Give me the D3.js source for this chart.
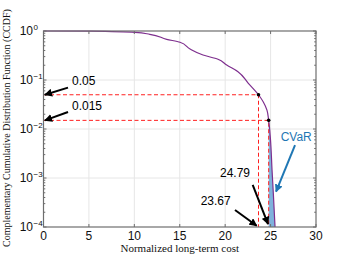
<!DOCTYPE html>
<html>
<head>
<meta charset="utf-8">
<script src="https://cdn.jsdelivr.net/npm/d3@7"></script>
<style>
  body { margin: 0; background: #fff; }
  text { font-family: "Liberation Sans", Arial, sans-serif; }
</style>
</head>
<body>
<svg width="352" height="256"></svg>
<script>
// CCDF of normalized long-term cost
var costs = [0, 5.1, 10.07, 11.7, 13.56, 15.03, 16.13, 17.56, 19.21, 20.17, 21.41, 22.55, 23.67, 24.2, 24.6, 24.79, 24.99, 25.16, 25.3, 25.49];
var ccdf  = [1, 0.995, 0.941, 0.857, 0.677, 0.588, 0.43, 0.324, 0.265, 0.202, 0.148, 0.0857, 0.05, 0.0356, 0.0243, 0.015, 0.006, 0.00146, 0.000494, 0.0001];

var xTicks = [0, 5, 10, 15, 20, 25, 30];
var yTicks = [1e-4, 1e-3, 1e-2, 1e-1, 1];
var yExp   = ["\u22124", "\u22123", "\u22122", "\u22121", "0"];

// VaR levels and costs
var levels = [0.05, 0.015];
var vars   = [23.67, 24.79];

// annotations: text, text pos, arrow tail, arrow head (data units)
var notes = [
  {t: "0.05",  tx: 3.14, ty: 0.095,   ax: 2.7,   ay: 0.07,    hx: 0.15,  hy: 0.05,    c: "#000"},
  {t: "0.015", tx: 3.14, ty: 0.0295,  ax: 2.7,   ay: 0.0222,  hx: 0.15,  hy: 0.015,   c: "#000"},
  {t: "24.79", tx: 19.43, ty: 0.00126, ax: 23.03, ay: 0.00072, hx: 24.72, hy: 1.15e-4, c: "#000"},
  {t: "23.67", tx: 17.3, ty: 0.000344, ax: 21.08, ay: 0.000222, hx: 23.47, hy: 1.06e-4, c: "#000"},
  {t: "CVaR",  tx: 26.11, ty: 0.00697, ax: 27.69, ay: 0.00471, hx: 25.6,  hy: 0.000525, c: "#1f77b4"}
];

var svg = d3.select("svg");
var x = d3.scaleLinear().domain([0, 30]).range([43.5, 316]);
var y = d3.scaleLog().domain([1e-4, 1]).range([227, 31]);

var pts = costs.map(function (c, i) { return [c, ccdf[i]]; });

// grid
svg.append("g").selectAll("line").data(xTicks.slice(1, -1)).enter().append("line")
  .attr("x1", d => x(d)).attr("x2", d => x(d)).attr("y1", y(1)).attr("y2", y(1e-4))
  .attr("stroke", "#e6e6e6").attr("stroke-width", 1);
svg.append("g").selectAll("line").data(yTicks.slice(1, -1)).enter().append("line")
  .attr("y1", d => y(d)).attr("y2", d => y(d)).attr("x1", x(0)).attr("x2", x(30))
  .attr("stroke", "#e6e6e6").attr("stroke-width", 1);

// CVaR shaded tail
var tail = pts.filter(d => d[0] >= vars[1]);
svg.append("path").datum(tail)
  .attr("d", d3.area().y(d => y(d[1])).x0(x(vars[1])).x1(d => x(d[0])))
  .attr("fill", "#7fb2dc");

// red dashed guides
levels.forEach(function (l, i) {
  svg.append("path")
    .attr("d", "M" + x(0) + "," + y(l) + "H" + x(vars[i]) + "V" + y(1e-4))
    .attr("fill", "none").attr("stroke", "#ff2020").attr("stroke-width", 1)
    .attr("stroke-dasharray", "4,2.5");
});

// curve
svg.append("path").datum(pts)
  .attr("d", d3.line().x(d => x(d[0])).y(d => y(d[1])).curve(d3.curveMonotoneY))
  .attr("fill", "none").attr("stroke", "#7e2f8e").attr("stroke-width", 1.2);

svg.selectAll(".dot").data(levels).enter().append("circle")
  .attr("cx", (d, i) => x(vars[i])).attr("cy", d => y(d)).attr("r", 1.8).attr("fill", "#000");

// axes box
svg.append("rect").attr("x", x(0)).attr("y", y(1)).attr("width", x(30) - x(0)).attr("height", y(1e-4) - y(1))
  .attr("fill", "none").attr("stroke", "#6e6e6e").attr("stroke-width", 1.2);

// ticks
var tk = svg.append("g").attr("stroke", "#6e6e6e").attr("stroke-width", 1);
xTicks.forEach(function (d) {
  tk.append("line").attr("x1", x(d)).attr("x2", x(d)).attr("y1", y(1e-4)).attr("y2", y(1e-4) - 3);
  tk.append("line").attr("x1", x(d)).attr("x2", x(d)).attr("y1", y(1)).attr("y2", y(1) + 3);
});
yTicks.forEach(function (d) {
  tk.append("line").attr("y1", y(d)).attr("y2", y(d)).attr("x1", x(0)).attr("x2", x(0) + 3);
  tk.append("line").attr("y1", y(d)).attr("y2", y(d)).attr("x1", x(30)).attr("x2", x(30) - 3);
});
yTicks.slice(0, -1).forEach(function (d) {
  for (var k = 2; k < 10; k++) {
    tk.append("line").attr("y1", y(d * k)).attr("y2", y(d * k)).attr("x1", x(0)).attr("x2", x(0) + 1.8);
    tk.append("line").attr("y1", y(d * k)).attr("y2", y(d * k)).attr("x1", x(30)).attr("x2", x(30) - 1.8);
  }
});

// tick labels
svg.append("g").selectAll("text").data(xTicks).enter().append("text")
  .attr("x", d => x(d)).attr("y", 240).attr("text-anchor", "middle")
  .attr("font-size", 12).attr("fill", "#111").text(d => d);
svg.append("g").selectAll("text").data(yTicks).enter().append("text")
  .attr("x", 33).attr("y", d => y(d) + 4).attr("text-anchor", "end")
  .attr("font-size", 12).attr("fill", "#111").text("10");
svg.append("g").selectAll("text").data(yTicks).enter().append("text")
  .attr("x", 33.5).attr("y", d => y(d) - 1.5)
  .attr("font-size", 8).attr("fill", "#111").text((d, i) => yExp[i]);

// axis titles
svg.append("text").attr("x", x(15)).attr("y", 252).attr("text-anchor", "middle")
  .style("font-family", "'Liberation Serif', 'Times New Roman', serif").attr("font-size", 11)
  .attr("fill", "#111").text("Normalized long-term cost");
svg.append("text").attr("transform", "translate(10,128) rotate(-90)").attr("text-anchor", "middle")
  .style("font-family", "'Liberation Serif', 'Times New Roman', serif").attr("font-size", 10)
  .attr("fill", "#111").text("Complementary Cumulative Distribution Function (CCDF)");

// arrows
var defs = svg.append("defs");
["#000", "#1f77b4"].forEach(function (c, i) {
  defs.append("marker").attr("id", "ah" + i).attr("viewBox", "0 0 10 10")
    .attr("refX", 9).attr("refY", 5).attr("markerWidth", 4).attr("markerHeight", 4)
    .attr("markerUnits", "strokeWidth").attr("orient", "auto")
    .append("path").attr("d", "M0,0L10,5L0,10z").attr("fill", c);
});
notes.forEach(function (n) {
  svg.append("line").attr("x1", x(n.ax)).attr("y1", y(n.ay)).attr("x2", x(n.hx)).attr("y2", y(n.hy))
    .attr("stroke", n.c).attr("stroke-width", 2)
    .attr("marker-end", "url(#ah" + (n.c === "#000" ? 0 : 1) + ")");
  svg.append("text").attr("x", x(n.tx)).attr("y", y(n.ty) + 4.3)
    .attr("font-size", 12).attr("fill", n.c).text(n.t);
});
</script>
</body>
</html>
